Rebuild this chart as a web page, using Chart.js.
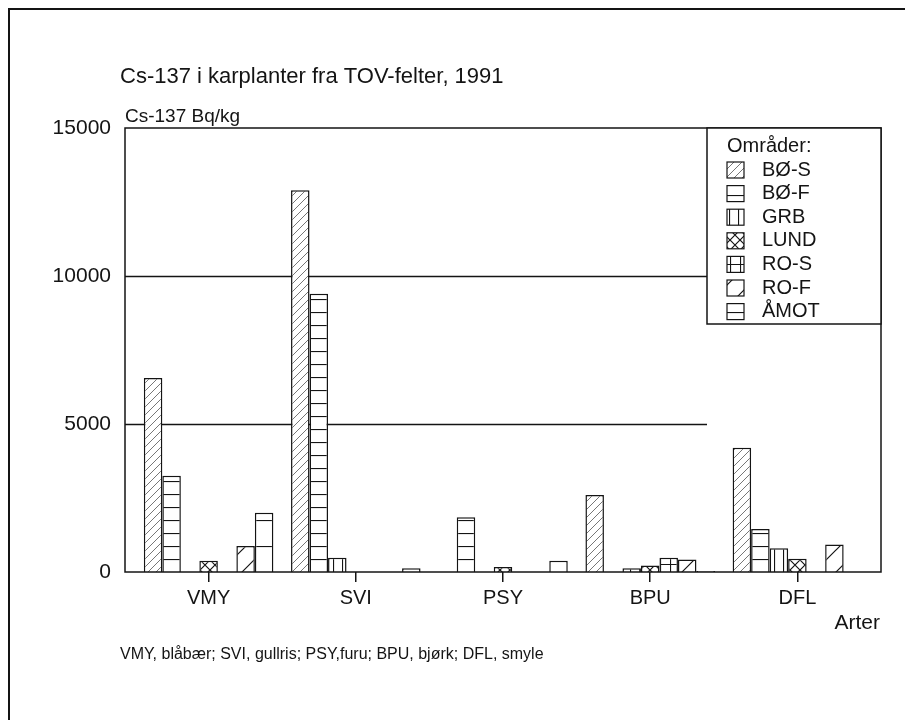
<!DOCTYPE html>
<html>
<head>
<meta charset="utf-8">
<script src="https://cdn.jsdelivr.net/npm/chart.js@4.4.1/dist/chart.umd.min.js"></script>
<style>
  html, body { margin: 0; padding: 0; background: #fff; }
  #wrap { width: 905px; height: 720px; }
</style>
</head>
<body>
<div id="wrap"><canvas id="chart" width="905" height="720"></canvas></div>
<script>
// Arter (species) on the x axis, one bar per område in each group
const categories = ['VMY', 'SVI', 'PSY', 'BPU', 'DFL'];
const areas = ['BØ-S', 'BØ-F', 'GRB', 'LUND', 'RO-S', 'RO-F', 'ÅMOT'];

// Cs-137 Bq/kg
const valBoS  = [6550, 12900,    0, 2600, 4200];
const valBoF  = [3250,  9400, 1850,    0, 1450];
const valGrb  = [   0,   480,    0,  130,  800];
const valLund = [ 380,     0,  170,  220,  450];
const valRoS  = [   0,     0,    0,  480,    0];
const valRoF  = [ 880,     0,    0,  420,  930];
const valAmot = [2000,   130,  380,   30,    0];

const yTicks = [0, 5000, 10000, 15000];
const gridValues = [5000, 10000];

const INK = '#141414';
const FONT = '"Liberation Sans", Arial, sans-serif';

// hatch fills, white ground like the print
function hatch(kind) {
    const c = document.createElement('canvas');
    let w = 10, h = 10;
    if (kind === 'diag') { w = 8; h = 8; }
    if (kind === 'hline') { w = 4; h = 13; }
    if (kind === 'vline') { w = 9; h = 4; }
    if (kind === 'cross') { w = 10; h = 10; }
    if (kind === 'grid') { w = 10; h = 12; }
    if (kind === 'sparse') { w = 22; h = 22; }
    if (kind === 'wide') { w = 4; h = 26; }
    c.width = w; c.height = h;
    const g = c.getContext('2d');
    g.fillStyle = '#fff';
    g.fillRect(0, 0, w, h);
    g.strokeStyle = INK;
    g.lineWidth = 1.2;
    g.beginPath();
    if (kind === 'diag' || kind === 'sparse') {
        if (kind === 'diag') { g.strokeStyle = '#777'; g.lineWidth = 1; }
        g.moveTo(0, h); g.lineTo(w, 0);
        g.moveTo(-w / 2, h / 2); g.lineTo(w / 2, -h / 2);
        g.moveTo(w / 2, h * 1.5); g.lineTo(w * 1.5, h / 2);
    } else if (kind === 'hline' || kind === 'wide') {
        g.moveTo(0, 0.5); g.lineTo(w, 0.5);
    } else if (kind === 'vline') {
        g.moveTo(0.5, 0); g.lineTo(0.5, h);
    } else if (kind === 'cross') {
        g.moveTo(0, 0); g.lineTo(w, h);
        g.moveTo(w, 0); g.lineTo(0, h);
    } else if (kind === 'grid') {
        g.moveTo(0.5, 0); g.lineTo(0.5, h);
        g.moveTo(0, 0.5); g.lineTo(w, 0.5);
    }
    g.stroke();
    return g.createPattern(c, 'repeat');
}

const fills = [hatch('diag'), hatch('hline'), hatch('vline'), hatch('cross'),
               hatch('grid'), hatch('sparse'), hatch('wide')];
const series = [valBoS, valBoF, valGrb, valLund, valRoS, valRoF, valAmot];

const datasets = areas.map((name, i) => ({
    label: name,
    data: series[i],
    backgroundColor: fills[i],
    borderColor: INK,
    borderWidth: 1.5,
    borderSkipped: 'bottom',
    categoryPercentage: 0.88,
    barPercentage: 1.0
}));

// frame, grid lines, legend box and the loose texts
const decorPlugin = {
    id: 'decor',
    beforeDatasetsDraw(chart) {
        const { ctx, chartArea } = chart;
        const y = chart.scales.y;
        const left = chartArea.left - 10;
        const legendLeft = 707;
        ctx.save();
        ctx.strokeStyle = INK;
        ctx.lineWidth = 1.5;
        gridValues.forEach(v => {
            const py = Math.round(y.getPixelForValue(v)) + 0.5;
            ctx.beginPath();
            ctx.moveTo(left, py);
            ctx.lineTo(legendLeft, py);
            ctx.stroke();
        });
        ctx.restore();
    },
    afterDatasetsDraw(chart) {
        const { ctx, chartArea } = chart;
        const left = chartArea.left - 10;
        const right = chartArea.right + 10;
        const top = chartArea.top;
        const bottom = chartArea.bottom;
        ctx.save();

        // page border (top and left edges of the scan)
        ctx.strokeStyle = INK;
        ctx.lineWidth = 2;
        ctx.beginPath();
        ctx.moveTo(9, 720); ctx.lineTo(9, 9); ctx.lineTo(905, 9);
        ctx.stroke();

        // plot frame
        ctx.lineWidth = 1.5;
        ctx.strokeRect(left, top, right - left, bottom - top);

        // legend
        const lx = 707, ly = top, lw = right - lx, lh = 196;
        ctx.fillStyle = '#fff';
        ctx.fillRect(lx, ly, lw, lh);
        ctx.strokeRect(lx, ly, lw, lh);
        ctx.fillStyle = INK;
        ctx.font = '20px ' + FONT;
        ctx.textBaseline = 'middle';
        ctx.textAlign = 'left';
        ctx.fillText('Områder:', 727, 146);
        chart.data.datasets.forEach((ds, i) => {
            const ry = 170 + i * 23.6;
            ctx.fillStyle = ds.backgroundColor;
            ctx.fillRect(727, ry - 8, 17, 16);
            ctx.lineWidth = 1.2;
            ctx.strokeRect(727, ry - 8, 17, 16);
            ctx.fillStyle = INK;
            ctx.fillText(ds.label, 762, ry);
        });

        // titles and notes
        ctx.font = '22px ' + FONT;
        ctx.fillText('Cs-137 i karplanter fra TOV-felter, 1991', 120, 77);
        ctx.font = '19px ' + FONT;
        ctx.fillText('Cs-137 Bq/kg', 125, 117);
        ctx.font = '21px ' + FONT;
        ctx.textAlign = 'right';
        ctx.fillText('Arter', 880, 623);
        ctx.textAlign = 'left';
        ctx.font = '16px ' + FONT;
        ctx.fillText('VMY, blåbær; SVI, gullris; PSY,furu; BPU, bjørk; DFL, smyle', 120, 655);
        ctx.restore();
    }
};

new Chart(document.getElementById('chart'), {
    type: 'bar',
    data: { labels: categories, datasets: datasets },
    options: {
        responsive: false,
        animation: false,
        layout: { padding: { left: 0, right: 34, top: 128, bottom: 108 } },
        plugins: {
            legend: { display: false },
            title: { display: false },
            tooltip: { enabled: false }
        },
        scales: {
            x: {
                offset: true,
                afterFit(scale) { scale.height = 40; },
                grid: {
                    display: true,
                    offset: false,
                    drawOnChartArea: false,
                    drawTicks: true,
                    tickLength: 10,
                    color: INK,
                    lineWidth: 1.5
                },
                border: { display: false },
                ticks: { color: INK, font: { family: FONT, size: 20 }, padding: 4 }
            },
            y: {
                min: 0,
                max: 15000,
                afterFit(scale) { scale.width = 135; },
                afterBuildTicks(scale) { scale.ticks = yTicks.map(v => ({ value: v })); },
                grid: { display: false, drawTicks: false },
                border: { display: false },
                ticks: {
                    color: INK,
                    font: { family: FONT, size: 21 },
                    padding: 24,
                    callback: v => String(v)
                }
            }
        }
    },
    plugins: [decorPlugin]
});
</script>
</body>
</html>
